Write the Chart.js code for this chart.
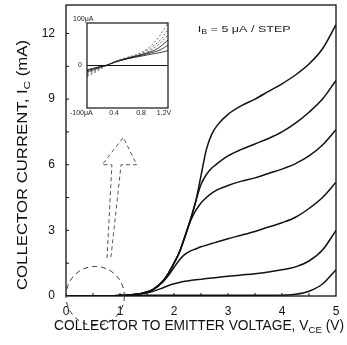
<!DOCTYPE html>
<html>
<head>
<meta charset="utf-8">
<script src="https://cdn.jsdelivr.net/npm/chart.js@4.4.1/dist/chart.umd.min.js"></script>
<style>
html, body { margin: 0; padding: 0; background: #fff; }
#wrap { position: relative; width: 347px; height: 345px; }
#main { position: absolute; left: 0; top: 0; }
#inset { position: absolute; left: 58px; top: 12px; }
</style>
</head>
<body>
<div id="wrap">
  <canvas id="main" width="347" height="345"></canvas>
  <canvas id="inset" width="116" height="106"></canvas>
</div>
<script>
// collector voltage grid (V)
var vce = [0, 0.5, 1.0, 1.2, 1.4, 1.6, 1.8, 1.9, 2.0, 2.1, 2.2, 2.3, 2.4, 2.5, 2.6, 2.7, 2.8, 3.0, 3.25, 3.5, 3.75, 4.0, 4.25, 4.5, 4.75, 5.0];
// collector current (mA), one curve per base-current step
var ic1 = [0, 0, 0.02, 0.05, 0.12, 0.28, 0.7, 1.05, 1.5, 2.0, 2.7, 3.45, 4.3, 5.5, 6.7, 7.4, 7.8, 8.3, 8.7, 9.0, 9.35, 9.7, 10.1, 10.6, 11.3, 12.4];
var ic2 = [0, 0, 0.02, 0.05, 0.12, 0.28, 0.7, 1.05, 1.5, 2.0, 2.7, 3.45, 4.3, 5.1, 5.55, 5.85, 6.05, 6.4, 6.7, 6.95, 7.2, 7.5, 7.9, 8.4, 9.0, 9.85];
var ic3 = [0, 0, 0.02, 0.05, 0.12, 0.28, 0.7, 1.05, 1.5, 2.0, 2.7, 3.4, 3.9, 4.25, 4.5, 4.7, 4.85, 5.05, 5.25, 5.4, 5.6, 5.8, 6.05, 6.4, 6.9, 7.6];
var ic4 = [0, 0, 0.02, 0.05, 0.12, 0.27, 0.65, 0.95, 1.3, 1.65, 1.9, 2.05, 2.15, 2.25, 2.32, 2.4, 2.47, 2.62, 2.78, 2.95, 3.15, 3.35, 3.6, 4.0, 4.5, 5.2];
var ic5 = [0, 0, 0.02, 0.05, 0.1, 0.2, 0.38, 0.48, 0.56, 0.62, 0.67, 0.71, 0.74, 0.77, 0.8, 0.82, 0.85, 0.9, 0.96, 1.02, 1.1, 1.2, 1.33, 1.6, 2.1, 3.0];
var ic6 = [0, 0, 0.01, 0.02, 0.03, 0.03, 0.03, 0.03, 0.03, 0.03, 0.03, 0.03, 0.03, 0.03, 0.03, 0.03, 0.03, 0.03, 0.03, 0.03, 0.03, 0.04, 0.08, 0.22, 0.55, 1.2];
var xTicks = [0, 1, 2, 3, 4, 5];
var yTicks = [0, 3, 6, 9, 12];

// inset: low-voltage region (V, uA)
var vIn = [0, 0.1, 0.2, 0.3, 0.4, 0.5, 0.6, 0.7, 0.8, 0.9, 1.0, 1.1, 1.2];
var in1 = [-25, -18, -8, 0, 8, 14, 19, 24, 30, 40, 55, 75, 100];
var in2 = [-22, -15, -6, 1, 8, 14, 19, 23, 28, 36, 48, 62, 85];
var in3 = [-18, -12, -5, 1, 8, 13, 18, 22, 26, 32, 42, 55, 72];
var in4 = [-15, -10, -4, 1, 8, 13, 17, 21, 25, 30, 36, 46, 60];
var in5 = [-12, -8, -3, 1, 7, 12, 16, 20, 24, 28, 32, 38, 48];
var in6 = [-10, -6, -2, 1, 7, 12, 16, 19, 22, 25, 28, 31, 35];

var FONT = '"Liberation Sans", Arial, sans-serif';

function pts(xs, ys) {
  return xs.map(function (x, i) { return { x: x, y: ys[i] }; });
}

function curve(ys, xs, w) {
  return {
    data: pts(xs, ys),
    borderColor: '#111',
    borderWidth: w,
    pointRadius: 0,
    fill: false,
    cubicInterpolationMode: 'monotone'
  };
}

// text with subscripts, optionally squeezed to a given width
function richText(ctx, parts, size, cx, cy, fitW) {
  var w = 0;
  parts.forEach(function (p) {
    ctx.font = (p.sub ? size * 0.7 : size) + 'px ' + FONT;
    p.w = ctx.measureText(p.t).width;
    w += p.w;
  });
  var sx = fitW ? fitW / w : 1;
  ctx.save();
  ctx.translate(cx, cy);
  ctx.scale(sx, 1);
  var x = -w / 2;
  ctx.textBaseline = 'middle';
  ctx.textAlign = 'left';
  parts.forEach(function (p) {
    ctx.font = (p.sub ? size * 0.7 : size) + 'px ' + FONT;
    ctx.fillText(p.t, x, p.sub ? size * 0.3 : 0);
    x += p.w;
  });
  ctx.restore();
}

function noPad(s) {
  s.paddingTop = 0; s.paddingBottom = 0; s.paddingLeft = 0; s.paddingRight = 0;
}

var frame = {
  id: 'frame',
  afterDatasetsDraw: function (chart) {
    var ctx = chart.ctx, a = chart.chartArea;
    var sx = chart.scales.x, sy = chart.scales.y;
    ctx.save();
    ctx.strokeStyle = '#111';
    ctx.lineWidth = 1.3;
    ctx.strokeRect(a.left, a.top, a.right - a.left, a.bottom - a.top);
    // inward ticks
    ctx.lineWidth = 1;
    for (var v = 0.5; v < 5; v += 0.5) {
      var px = sx.getPixelForValue(v);
      ctx.beginPath(); ctx.moveTo(px, a.bottom); ctx.lineTo(px, a.bottom - 3); ctx.stroke();
    }
    for (var m = 1.5; m < 13; m += 1.5) {
      var py = sy.getPixelForValue(m);
      ctx.beginPath(); ctx.moveTo(a.left, py); ctx.lineTo(a.left + 3, py); ctx.stroke();
    }

    // dashed circle around the low-voltage region
    ctx.strokeStyle = '#333';
    ctx.lineWidth = 1;
    ctx.setLineDash([5, 4]);
    var cx = sx.getPixelForValue(0.54), cy = sy.getPixelForValue(0);
    var rx = sx.getPixelForValue(1.08) - cx, ry = cy - sy.getPixelForValue(1.35);
    ctx.beginPath();
    ctx.ellipse(cx, cy, rx, ry, 0, 0, Math.PI * 2);
    ctx.stroke();

    // hollow dashed arrow pointing to the inset
    ctx.strokeStyle = '#555';
    ctx.setLineDash([4, 3]);
    var arrow = [[0.76, 1.73], [0.85, 6.0], [0.67, 6.0], [1.06, 7.25], [1.31, 6.0], [1.02, 6.0], [0.83, 1.73]];
    ctx.beginPath();
    arrow.forEach(function (p, i) {
      var X = sx.getPixelForValue(p[0]), Y = sy.getPixelForValue(p[1]);
      if (i === 0) ctx.moveTo(X, Y); else ctx.lineTo(X, Y);
    });
    ctx.stroke();
    ctx.setLineDash([]);

    // step note
    ctx.fillStyle = '#222';
    var nx = sx.getPixelForValue(2.43), ny = sy.getPixelForValue(12.2);
    richText(ctx, [{ t: 'I' }, { t: 'B', sub: true }, { t: ' = 5 \u03bcA / STEP' }], 9, nx + 47, ny, 93);

    // axis titles
    ctx.fillStyle = '#111';
    richText(ctx, [{ t: 'COLLECTOR TO EMITTER VOLTAGE, V' }, { t: 'CE', sub: true }, { t: ' (V)' }], 14, 199, 326, 290);
    ctx.save();
    ctx.translate(23, 165);
    ctx.rotate(-Math.PI / 2);
    richText(ctx, [{ t: 'COLLECTOR CURRENT, I' }, { t: 'C', sub: true }, { t: ' (mA)' }], 14, 0, 0, 250);
    ctx.restore();
    ctx.restore();
  }
};

new Chart(document.getElementById('main'), {
  type: 'line',
  data: {
    datasets: [ic1, ic2, ic3, ic4, ic5, ic6].map(function (d) { return curve(d, vce, 1.5); })
  },
  options: {
    responsive: false,
    animation: false,
    layout: { padding: { top: 5, right: 11, left: 0, bottom: 0 } },
    plugins: { legend: { display: false }, tooltip: { enabled: false } },
    scales: {
      x: {
        type: 'linear', min: 0, max: 5,
        afterBuildTicks: function (s) { s.ticks = xTicks.map(function (v) { return { value: v }; }); },
        afterFit: function (s) { s.height = 49; noPad(s); },
        grid: { display: false, drawTicks: false },
        border: { display: false },
        ticks: { color: '#111', padding: 8, maxRotation: 0, font: { family: FONT, size: 12 } }
      },
      y: {
        type: 'linear', min: 0, max: 13.3,
        afterBuildTicks: function (s) { s.ticks = yTicks.map(function (v) { return { value: v }; }); },
        afterFit: function (s) { s.width = 66; noPad(s); },
        grid: { display: false, drawTicks: false },
        border: { display: false },
        ticks: { color: '#111', padding: 11, font: { family: FONT, size: 12 } }
      }
    }
  },
  plugins: [frame]
});

var insetFrame = {
  id: 'insetFrame',
  afterDatasetsDraw: function (chart) {
    var ctx = chart.ctx, a = chart.chartArea;
    var sx = chart.scales.x, sy = chart.scales.y;
    ctx.save();
    ctx.strokeStyle = '#111';
    ctx.lineWidth = 1.2;
    ctx.strokeRect(a.left, a.top, a.right - a.left, a.bottom - a.top);
    var z = sy.getPixelForValue(0);
    ctx.beginPath(); ctx.moveTo(a.left, z); ctx.lineTo(a.right, z); ctx.stroke();
    ctx.fillStyle = '#222';
    ctx.font = '7px ' + FONT;
    ctx.textBaseline = 'middle';
    ctx.textAlign = 'left';
    ctx.fillText('100\u03bcA', a.left - 14, a.top - 4);
    ctx.fillText('-100\u03bcA', a.left - 17, a.bottom + 5);
    ctx.textAlign = 'center';
    ctx.fillText('0', a.left - 7, z);
    ctx.fillText('0.4', sx.getPixelForValue(0.4), a.bottom + 5);
    ctx.fillText('0.8', sx.getPixelForValue(0.8), a.bottom + 5);
    ctx.fillText('1.2V', sx.getPixelForValue(1.2) - 4, a.bottom + 5);
    ctx.restore();
  }
};

var insetSets = [in1, in2, in3, in4, in5, in6].map(function (d, i) {
  var ds = curve(d, vIn, 0.8);
  if (i < 3) { ds.borderDash = [2, 2]; ds.borderColor = '#444'; }
  return ds;
});

new Chart(document.getElementById('inset'), {
  type: 'line',
  data: { datasets: insetSets },
  options: {
    responsive: false,
    animation: false,
    layout: { padding: { top: 11, right: 6, left: 0, bottom: 0 } },
    plugins: { legend: { display: false }, tooltip: { enabled: false } },
    scales: {
      x: {
        type: 'linear', min: 0, max: 1.2,
        afterFit: function (s) { s.height = 10; noPad(s); },
        grid: { display: false, drawTicks: false },
        border: { display: false },
        ticks: { display: false }
      },
      y: {
        type: 'linear', min: -100, max: 100,
        afterFit: function (s) { s.width = 29; noPad(s); },
        grid: { display: false, drawTicks: false },
        border: { display: false },
        ticks: { display: false }
      }
    }
  },
  plugins: [insetFrame]
});
</script>
</body>
</html>
